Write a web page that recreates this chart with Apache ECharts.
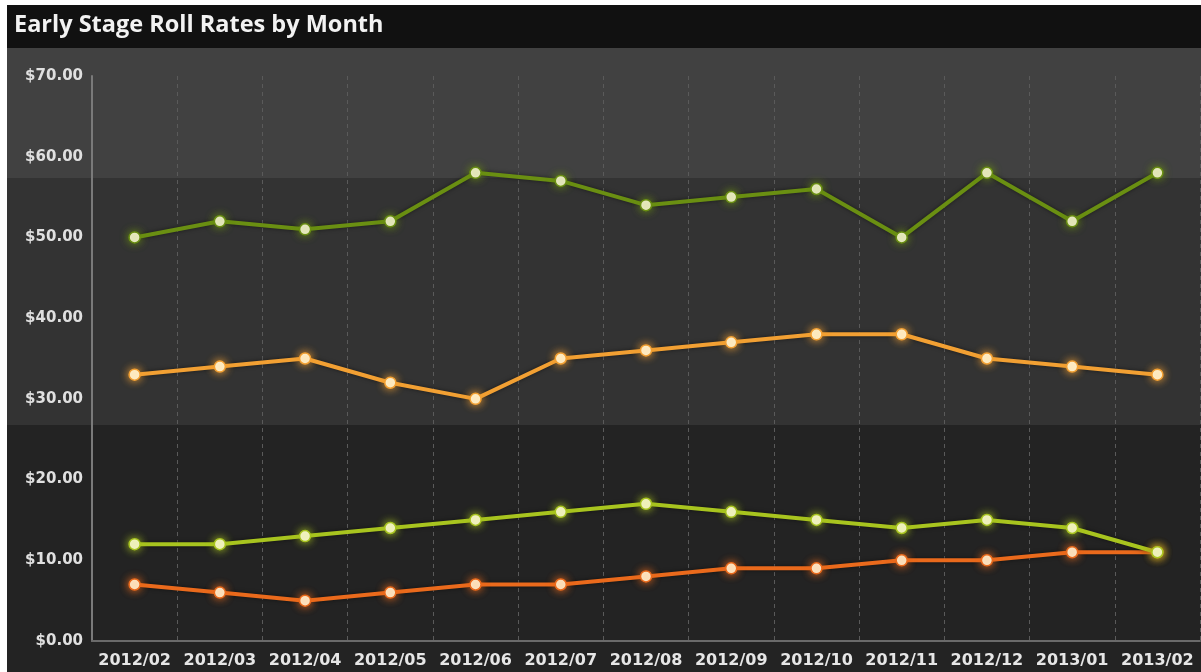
<!DOCTYPE html>
<html>
<head>
<meta charset="utf-8">
<script src="https://cdn.jsdelivr.net/npm/echarts@6/dist/echarts.min.js"></script>
<style>
html,body{margin:0;padding:0;background:#fff;}
#c{width:1201px;height:672px;}
</style>
</head>
<body>
<div id="c"></div>
<script>
var categories = ['2012/02','2012/03','2012/04','2012/05','2012/06','2012/07','2012/08','2012/09','2012/10','2012/11','2012/12','2013/01','2013/02'];
var seriesDarkGreen = [50,52,51,52,58,57,54,55,56,50,58,52,58];
var seriesOrange = [33,34,35,32,30,35,36,37,38,38,35,34,33];
var seriesDarkOrange = [7,6,5,6,7,7,8,9,9,10,10,11,11];
var seriesLightGreen = [12,12,13,14,15,16,17,16,15,14,15,14,11];
var yTicks = [0,10,20,30,40,50,60,70];
var titleText = 'Early Stage Roll Rates by Month';

var chart = echarts.init(document.getElementById('c'));

function mkSeries(name, data, color) {
  return {
    name: name,
    type: 'line',
    data: data,
    symbol: 'circle',
    symbolSize: 11,
    lineStyle: {color: color, width: 4, shadowBlur: 4, shadowColor: 'rgba(0,0,0,0.5)'},
    itemStyle: {color: '#fffbe0', borderColor: color, borderWidth: 1.5, shadowBlur: 8, shadowColor: color},
    emphasis: {disabled: true},
    z: 5
  };
}

var option = {
  animation: false,
  backgroundColor: '#ffffff',
  graphic: [
    {type: 'rect', shape: {x: 7, y: 5, width: 1194, height: 43}, style: {fill: '#111111'}, z: -10, silent: true},
    {type: 'rect', shape: {x: 7, y: 48, width: 1194, height: 130}, style: {fill: '#414141'}, z: -10, silent: true},
    {type: 'rect', shape: {x: 7, y: 178, width: 1194, height: 247}, style: {fill: '#333333'}, z: -10, silent: true},
    {type: 'rect', shape: {x: 7, y: 425, width: 1194, height: 247}, style: {fill: '#232323'}, z: -10, silent: true},
    {type: 'text', x: 14, y: 25, style: {text: titleText, fill: '#f2f2f2', font: 'bold 23.5px "Open Sans", sans-serif', verticalAlign: 'middle', align: 'left'}, z: 10, silent: true}
  ],
  grid: {left: 92, right: 1, top: 76, bottom: 31, containLabel: false},
  xAxis: {
    type: 'category',
    data: categories,
    boundaryGap: true,
    axisLine: {lineStyle: {color: '#6a6a6a', width: 2}},
    axisTick: {show: false},
    axisLabel: {color: '#e6e6e6', fontSize: 16, fontWeight: 'bold', fontFamily: 'DejaVu Sans, sans-serif', margin: 12, interval: 0},
    splitLine: {show: true, interval: 0, lineStyle: {color: '#5a5a5a', type: [4, 4], width: 1}}
  },
  yAxis: {
    type: 'value',
    min: yTicks[0],
    max: yTicks[yTicks.length - 1],
    interval: 10,
    axisLine: {show: true, lineStyle: {color: '#7a7a7a', width: 2}},
    axisTick: {show: false},
    splitLine: {show: false},
    axisLabel: {
      color: '#e0e0e0', fontSize: 15, fontWeight: 'bold', fontFamily: 'DejaVu Sans, sans-serif', margin: 9,
      formatter: function (v) { return '$' + v.toFixed(2); }
    }
  },
  series: [
    mkSeries('A', seriesDarkGreen, '#6a8f12'),
    mkSeries('B', seriesOrange, '#f2a033'),
    mkSeries('C', seriesDarkOrange, '#ea6a1c'),
    mkSeries('D', seriesLightGreen, '#a8c41f')
  ]
};
chart.setOption(option);
</script>
</body>
</html>
